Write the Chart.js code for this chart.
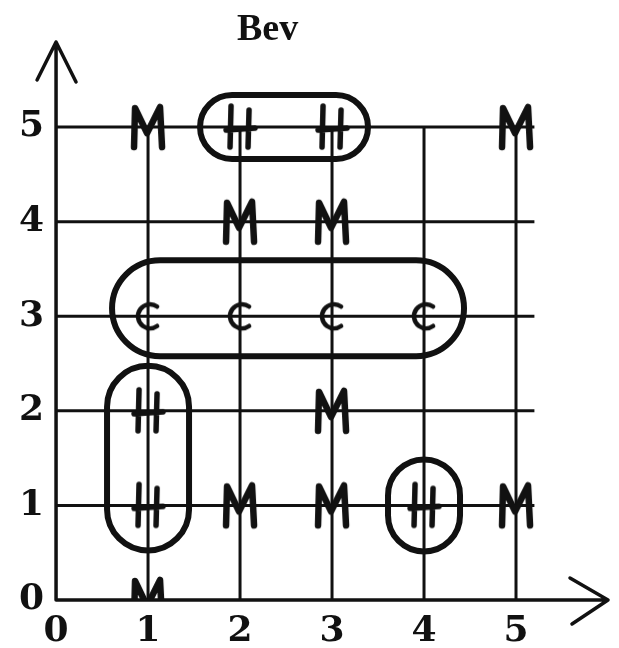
<!DOCTYPE html>
<html>
<head>
<meta charset="utf-8">
<script src="https://cdn.jsdelivr.net/npm/chart.js@4.4.1/dist/chart.umd.min.js"></script>
<style>
  html, body { margin: 0; padding: 0; background: #fff; }
  #wrap { width: 619px; height: 648px; }
</style>
</head>
<body>
<div id="wrap"><canvas id="chart"></canvas></div>
<script>
// Grid positions of each letter (x = column, y = row)
const mX = [1, 5, 2, 3, 3, 2, 3, 5, 1];
const mY = [5, 5, 4, 4, 2, 1, 1, 1, 0];
const hX = [2, 3, 1, 1, 4];
const hY = [5, 5, 2, 1, 1];
const cX = [1, 2, 3, 4];
const cY = [3, 3, 3, 3];

// Circled groups: first and last point of each loop
const loopFromX = [2, 1, 1, 4];
const loopFromY = [5, 3, 2, 1];
const loopToX = [3, 4, 1, 4];
const loopToY = [5, 3, 1, 1];

const xTicks = [0, 1, 2, 3, 4, 5];
const yTicks = [0, 1, 2, 3, 4, 5];
const titleText = 'Bev';

const INK = '#111';

// hand-drawn letter glyphs used as point styles
function makeGlyph(letter) {
  const c = document.createElement('canvas');
  const w = letter === 'C' ? 30 : 40;
  const h = letter === 'C' ? 36 : 50;
  c.width = w; c.height = h;
  const g = c.getContext('2d');
  g.strokeStyle = INK;
  g.lineCap = 'round';
  g.lineJoin = 'round';
  if (letter === 'M') {
    g.lineWidth = 6.5;
    g.beginPath();
    g.moveTo(6, 45); g.lineTo(7, 6);
    g.lineTo(19, 31); g.lineTo(32, 5);
    g.lineTo(34, 45);
    g.stroke();
  } else if (letter === 'H') {
    g.lineWidth = 5.5;
    g.beginPath();
    g.moveTo(11, 4); g.lineTo(10, 45);
    g.moveTo(29, 8); g.lineTo(28, 45);
    g.moveTo(6, 28); g.lineTo(35, 26);
    g.stroke();
  } else {
    g.lineWidth = 4.5;
    g.beginPath();
    g.arc(17, 18, 12, -Math.PI * 0.3, Math.PI * 0.3, true);
    g.stroke();
  }
  return c;
}

function pts(xs, ys) {
  return xs.map((x, i) => ({ x, y: ys[i] }));
}

// grid segments stop at the last labelled row/column
const handGrid = {
  id: 'handGrid',
  beforeDatasetsDraw(chart) {
    const { ctx, scales: { x, y } } = chart;
    ctx.save();
    ctx.strokeStyle = INK;
    ctx.lineWidth = 3;
    xTicks.slice(1).forEach(v => {
      ctx.beginPath();
      ctx.moveTo(x.getPixelForValue(v), y.getPixelForValue(0));
      ctx.lineTo(x.getPixelForValue(v), y.getPixelForValue(5));
      ctx.stroke();
    });
    yTicks.slice(1).forEach(v => {
      ctx.beginPath();
      ctx.moveTo(x.getPixelForValue(0), y.getPixelForValue(v));
      ctx.lineTo(x.getPixelForValue(5.2), y.getPixelForValue(v));
      ctx.stroke();
    });
    ctx.restore();
  }
};

// loops drawn round grouped letters
const loopPads = [
  { l: 40, r: 36, t: 32, b: 32 },
  { l: 36, r: 40, t: 56, b: 40 },
  { l: 41, r: 41, t: 45, b: 45 },
  { l: 36, r: 36, t: 46, b: 46 }
];

function capsule(ctx, x0, y0, x1, y1) {
  const r = Math.min((x1 - x0) / 2, (y1 - y0) / 2);
  ctx.beginPath();
  ctx.moveTo(x0 + r, y0);
  ctx.lineTo(x1 - r, y0);
  ctx.arc(x1 - r, y0 + r, r, -Math.PI / 2, 0);
  ctx.lineTo(x1, y1 - r);
  ctx.arc(x1 - r, y1 - r, r, 0, Math.PI / 2);
  ctx.lineTo(x0 + r, y1);
  ctx.arc(x0 + r, y1 - r, r, Math.PI / 2, Math.PI);
  ctx.lineTo(x0, y0 + r);
  ctx.arc(x0 + r, y0 + r, r, Math.PI, Math.PI * 1.5);
  ctx.closePath();
  ctx.stroke();
}

const loops = {
  id: 'loops',
  afterDatasetsDraw(chart) {
    const { ctx, scales: { x, y } } = chart;
    ctx.save();
    ctx.strokeStyle = INK;
    ctx.lineWidth = 6;
    loopFromX.forEach((fx, i) => {
      const ax = x.getPixelForValue(fx), bx = x.getPixelForValue(loopToX[i]);
      const ay = y.getPixelForValue(loopFromY[i]), by = y.getPixelForValue(loopToY[i]);
      const p = loopPads[i];
      capsule(ctx, Math.min(ax, bx) - p.l, Math.min(ay, by) - p.t,
        Math.max(ax, bx) + p.r, Math.max(ay, by) + p.b);
    });
    ctx.restore();
  }
};

// arrowed axes and the title
const axesArrows = {
  id: 'axesArrows',
  afterDraw(chart) {
    const { ctx, chartArea: a, scales: { x, y } } = chart;
    const ox = x.getPixelForValue(0), oy = y.getPixelForValue(0);
    ctx.save();
    ctx.strokeStyle = INK;
    ctx.lineWidth = 3.5;
    ctx.lineCap = 'round';
    ctx.lineJoin = 'round';
    ctx.beginPath();
    ctx.moveTo(ox, oy); ctx.lineTo(ox, a.top);
    ctx.moveTo(ox - 19, a.top + 38); ctx.lineTo(ox, a.top); ctx.lineTo(ox + 20, a.top + 40);
    ctx.moveTo(ox, oy); ctx.lineTo(a.right, oy);
    ctx.moveTo(a.right - 38, oy - 22); ctx.lineTo(a.right, oy); ctx.lineTo(a.right - 36, oy + 24);
    ctx.stroke();
    ctx.fillStyle = INK;
    ctx.font = 'bold 38px "Liberation Serif"';
    ctx.textAlign = 'center';
    ctx.textBaseline = 'alphabetic';
    ctx.fillText(titleText, x.getPixelForValue(2.3), 40);
    ctx.restore();
  }
};

const xTickFont = { family: '"DejaVu Serif"', weight: 'bold', size: 36, lineHeight: 0.5 };
const yTickFont = { family: '"DejaVu Serif"', weight: 'bold', size: 36, lineHeight: 1 };

new Chart(document.getElementById('chart'), {
  type: 'scatter',
  data: {
    datasets: [
      { label: 'M', data: pts(mX, mY), pointStyle: makeGlyph('M') },
      { label: 'H', data: pts(hX, hY), pointStyle: makeGlyph('H') },
      { label: 'C', data: pts(cX, cY), pointStyle: makeGlyph('C') }
    ]
  },
  options: {
    responsive: true,
    maintainAspectRatio: false,
    animation: false,
    layout: { padding: { top: 42, left: 7, right: 11, bottom: -16 } },
    scales: {
      x: {
        type: 'linear',
        min: 0,
        max: 6,
        grid: { display: false, drawTicks: false },
        border: { display: false },
        afterBuildTicks: axis => { axis.ticks = xTicks.map(v => ({ value: v })); },
        ticks: { color: INK, font: xTickFont, padding: 23, maxRotation: 0 }
      },
      y: {
        type: 'linear',
        min: 0,
        max: 5.9,
        grid: { display: false, drawTicks: false },
        border: { display: false },
        afterBuildTicks: axis => { axis.ticks = yTicks.map(v => ({ value: v })); },
        ticks: { color: INK, font: yTickFont, padding: 12 }
      }
    },
    plugins: {
      legend: { display: false },
      tooltip: { enabled: false }
    }
  },
  plugins: [handGrid, loops, axesArrows]
});
</script>
</body>
</html>
